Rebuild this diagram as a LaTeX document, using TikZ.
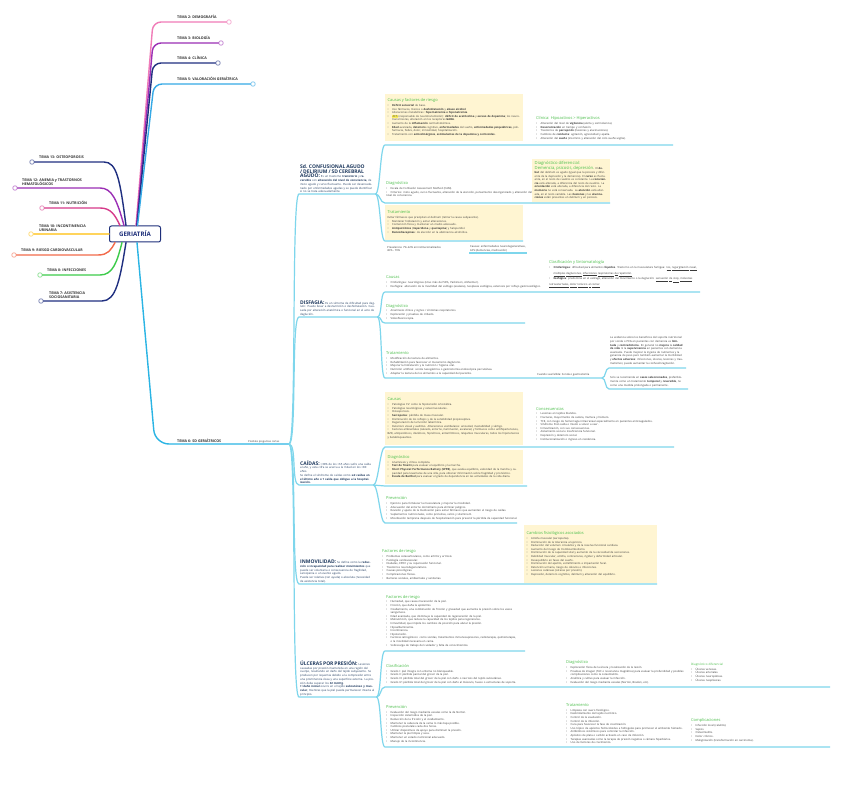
\documentclass[tikz,border=0pt]{standalone}
\usepackage{fontspec}
\setmainfont{Open Sans}
\newfontfamily\symf{DejaVu Sans}
\usetikzlibrary{positioning}

\definecolor{navyt}{HTML}{1F3A5F}
\definecolor{rootc}{HTML}{1E2F7A}
\definecolor{cream}{HTML}{FFF5D2}
\definecolor{hdgreen}{HTML}{4CBF4C}
\definecolor{cyanl}{HTML}{7ED6EC}
\definecolor{cyant}{HTML}{2AB4E4}
\definecolor{bodytxt}{HTML}{3A3A3A}
\definecolor{tpink}{HTML}{F07CB8}
\definecolor{tpurple}{HTML}{9B2FB5}
\definecolor{tnavy}{HTML}{1F2F80}
\definecolor{tblue}{HTML}{35A9E6}
\definecolor{tmag}{HTML}{D63A8A}
\definecolor{tyellow}{HTML}{FFD45C}
\definecolor{torange}{HTML}{F26A4B}
\definecolor{tgreen}{HTML}{3CCB4A}
\definecolor{hl}{HTML}{FFF15A}

\newcommand\bodyf{\fontsize{2.7}{3.6}\selectfont}
\newcommand\ttlf{\fontsize{2.8}{3.7}\selectfont\lineskiplimit=0.5pt\lineskip=1.2pt}
\newcommand\ttl[1]{{\fontsize{5}{6}\selectfont\bfseries\color{navyt}#1}}
\newcommand\hd[1]{{\fontsize{4}{5}\selectfont\color{hdgreen}#1\par}\vskip1.2pt}
\newcommand\bl{\par\noindent\hangindent=4.5pt\hangafter=1\hbox to 4.5pt{\textbullet\hfil}}
% subrayado palabra a palabra
\def\ulx#1{\ulxa#1 \ulend}
\def\ulxa#1 #2\ulend{\underline{#1}\if\relax\detokenize{#2}\relax\else\ \ulxa#2\ulend\fi}

\tikzset{
    raiz/.style = {draw=rootc, line width=1pt, rounded corners=2pt, fill=white, text=rootc, font=\fontsize{6.2}{7}\selectfont\bfseries, minimum width=51pt, minimum height=16pt},
    tema/.style = {font=\fontsize{3.6}{4.3}\selectfont\bfseries, text=black!80, inner sep=0pt, align=left},
    punta/.style = {circle, draw, fill=white, inner sep=0pt, minimum size=4.5pt, line width=0.8pt},
    rama/.style = {line width=1.4pt, line cap=round},
    sub/.style = {cyanl, line width=1.2pt},
    curv/.style = {to path={.. controls +(#1,0) and +(-#1,0) .. (\tikztotarget)}},
    curv/.default = 6,
    txt/.style = {anchor=south west, align=left, inner sep=1pt, font=\bodyf, text=bodytxt},
    caja/.style = {txt, fill=cream, inner sep=2.5pt},
    titulo/.style = {txt, text width=74pt, text=navyt, font=\ttlf}
}

\begin{document}
\begin{tikzpicture}[x=1pt,y=-1pt]
\useasboundingbox (0,0) rectangle (848,791);
\fill[white] (0,0) rectangle (848,791);

% nodo central
\node[raiz] (root) at (135,234) {GERIATRÍA};

% temas de la izquierda
\node[punta,draw=tnavy!55] (t13) at (32,162) {};
\node[punta,draw=tpurple!55] (t12) at (15,188) {};
\node[punta,draw=tmag!55] (t11) at (42,208) {};
\node[punta,draw=tyellow!80] (t10) at (31,234) {};
\node[punta,draw=torange!55] (t9) at (14,255) {};
\node[punta,draw=tgreen!55] (t8) at (40,275) {};
\node[punta,draw=tnavy!55] (t7) at (41,301) {};

\node[tema,anchor=base west] (l13) at (39,159) {TEMA 13: OSTEOPOROSIS};
\node[tema,anchor=south west] (l12) at (22,186) {TEMA 12: ANEMIA y TRASTORNOS\\HEMATOLÓGICOS};
\node[tema,anchor=base west] (l11) at (49,205) {TEMA 11: NUTRICIÓN};
\node[tema,anchor=south west] (l10) at (39,232) {TEMA 10: INCONTINENCIA\\URINARIA};
\node[tema,anchor=base west] (l9) at (21,252) {TEMA 9: RIESGO CARDIOVASCULAR};
\node[tema,anchor=base west] (l8) at (47,272) {TEMA 8: INFECCIONES};
\node[tema,anchor=south west] (l7) at (49,299) {TEMA 7: ASISTENCIA\\SOCIOSANITARIA};

\draw[rama,tnavy] ([xshift=-9pt]root.north) .. controls (120,180) and (117,162) .. (104,162) -- (t13);
\draw[rama,tpurple] ([xshift=-11pt]root.north) .. controls (117,200) and (112,188) .. (100,188) -- (t12);
\draw[rama,tmag] ([xshift=-15pt]root.north) .. controls (115,215) and (111,208) .. (100,208) -- (t11);
\draw[rama,tyellow] (root.west) -- (t10);
\draw[rama,torange] ([xshift=-20pt]root.south) .. controls (111,250) and (108,255) .. (98,255) -- (t9);
\draw[rama,tgreen] ([xshift=-13pt]root.south) .. controls (117,262) and (113,275) .. (100,275) -- (t8);
\draw[rama,tnavy] ([xshift=-9pt]root.south) .. controls (120,280) and (116,301) .. (102,301) -- (t7);

% temas de arriba
\node[punta,draw=tpink!60] (t2) at (229,22) {};
\node[punta,draw=tpurple!55] (t3) at (221,43) {};
\node[punta,draw=tnavy!55] (t4) at (218,63) {};
\node[punta,draw=tblue!60] (t5) at (253,84) {};

\node[tema,anchor=base west] (l2) at (177,19) {TEMA 2: DEMOGRAFÍA};
\node[tema,anchor=base west] (l3) at (177,40) {TEMA 3: BIOLOGÍA};
\node[tema,anchor=base west] (l4) at (177,60) {TEMA 4: CLÍNICA};
\node[tema,anchor=base west] (l5) at (177,81) {TEMA 5: VALORACIÓN GERIÁTRICA};

\draw[rama,tpink,rounded corners=8pt] ([xshift=1pt]root.north) -- (153,22) -- (t2);
\draw[rama,tpurple,rounded corners=8pt] ([xshift=1.5pt]root.north) -- (153,43) -- (t3);
\draw[rama,tnavy,rounded corners=8pt] ([xshift=2pt]root.north) -- (153,63) -- (t4);
\draw[rama,tblue,rounded corners=8pt] ([xshift=2.5pt]root.north) -- (154,84) -- (t5);

% tema 6
\coordinate (b6) at (289,444);
\draw[rama,cyant,rounded corners=14pt] ([xshift=2pt]root.south) -- (155,444) -- (b6);
\node[tema,anchor=base west] (l6) at (177,442) {TEMA 6: SD GERIÁTRICOS};
\node[txt,anchor=base west,font=\fontsize{2.6}{3}\selectfont] (preg) at (247,442) {Posibles preguntas cortas};

%% ---------- Sd. confusional agudo ----------
\node[titulo] (sdc) at (299,194) {\ttl{Sd. CONFUSIONAL AGUDO / DELIRIUM / SD CEREBRAL AGUDO:} Es un trastorno \textbf{transitorio} y \textbf{reversible} con \textbf{alteración del nivel de consciencia}, de inicio agudo y curso fluctuante. Puede ser desencadenado por enfermedades agudas y se puede identificar si no se trata adecuadamente.};

\node[caja,text width=133pt,minimum height=47pt] (cau1) at (385,141) {\hd{Causas y factores de riesgo}
\bl \textbf{Déficit sensorial} de base.
\bl Uso fármacos, tóxicos o \textbf{deshidratación} y \textbf{abuso alcohol}.
\bl Alteraciones metabólicas: \textbf{hipernatremia e hiponatremia}.
\bl {\fboxsep=0.3pt\colorbox{hl}{ACh}} (responsable de neurotransmisión): \textbf{déficit de acetilcolina} y \textbf{exceso de dopamina}; los neurotransmisores, alteración en los receptores \textbf{GABA}.
\bl Aumento de la \textbf{inflamación} central/sistémica.
\bl \textbf{Edad} avanzada, \textbf{deterioro} cognitivo, \textbf{enfermedades} del sueño, \textbf{enfermedades psiquiátricas}, polifarmacia, fiebre, dolor, inmovilidad, hospitalización.
\bl Tratamiento con \textbf{anticolinérgicos}, \textbf{estimulantes de la dopamina y corticoides}.};

\node[txt,text width=136pt] (cli1) at (535,141) {\hd{Clínica: Hipoactivos > Hiperactivos}
\bl Alteración del nivel de \textbf{vigilancia} (alerta y somnolencia).
\bl \textbf{Desorientación} en tiempo y confusión.
\bl Trastornos de \textbf{percepción} (ilusiones y alucinaciones).
\bl Cambios de \textbf{conducta}: agitación, agresividad y apatía.
\bl Alteración del \textbf{sueño} (insomnio y alteración del ciclo sueño-vigilia).};

\node[txt,text width=148pt] (dia1) at (385,198) {\hd{Diagnóstico}
\bl Escala de Confusión Assessment Method (CAM).
\bl Criterios: inicio agudo, curso fluctuante, alteración de la atención, pensamiento desorganizado y alteración del nivel de consciencia.};

\node[caja,text width=73pt] (ddi1) at (532,202) {{\fontsize{4.2}{5}\selectfont\color{hdgreen}Diagnóstico diferencial:\\ Demencia, psicosis, depresión.} El \textbf{debut} del delirium es agudo (igual que la psicosis y diferente de la depresión y la demencia). El \textbf{curso} es fluctuante, en el resto de cuadros es constante. La \textbf{consciencia} está alterada, a diferencia del resto de cuadros. La \textbf{orientación} está alterada, a diferencia del resto. La \textbf{memoria} no está conservada. La \textbf{atención} está alterada, en el resto variable. Las \textbf{ilusiones} y las \textbf{alucinaciones} están presentes en delirium y en psicosis.};

\node[caja,text width=133pt,minimum height=35pt] (tra1) at (385,240) {\hd{Tratamiento}
Evitar fármacos que precipitan el delirium (retirar la causa subyacente).
\bl Mantener hidratación y evitar alteraciones.
\bl Contención física y mantener un medio adecuado.
\bl \textbf{Antipsicóticos} (\textbf{risperidona} y \textbf{quetiapina}) y haloperidol.
\bl \textbf{Benzodiacepinas}: de elección en la abstinencia alcohólica.};

\node[txt] (pre1) at (386,253) {Prevalencia: 7\%-22\% en institucionalizados\\40\% - 70\%};
\node[txt] (cau1b) at (469,253) {Causas: enfermedades neurodegenerativas,\\ACV (demencias, medicación)};

\coordinate (r1s) at (385,145); \coordinate (r1e) at (673,145);
\coordinate (r2s) at (385,203); \coordinate (r2e) at (610,203);
\coordinate (r3s) at (385,241); \coordinate (r3e) at (523,241);
\draw[sub] (b6) to[curv=8] (sdc.south west) -- (sdc.south east);
\draw[sub] (sdc.south east) to[curv=5] (r1s) -- (r1e);
\draw[sub] (sdc.south east) to[curv=5] (r2s) -- (r2e);
\draw[sub] (sdc.south east) to[curv=5] (r3s) -- (r3e);
\draw[sub] (cau1b.south west) -- (cau1b.south east);

%% ---------- Disfagia ----------
\node[titulo,text width=76pt] (dis) at (299,317) {\ttl{DISFAGIA:} Es un síntoma de dificultad para deglutir. Puede llevar a desnutrición o deshidratación. Causada por alteración anatómica o funcional en el acto de deglución.};

\node[txt,text width=158pt] (cau2) at (385,289) {\hd{Causas}
\bl Orofaríngea: neurológicas (ictus más del 50\%, Parkinson, Alzheimer).
\bl Esofágica: alteración de la movilidad del esófago (acalasia), neoplasia esofágica, estenosis por reflujo gastroesofágico.};

\node[txt,text width=150pt] (cla2) at (548,289) {\hd{Clasificación y Sintomatología}
\bl \textbf{Orofaríngea}: dificultad para alimentos \textbf{líquidos}. Trastorno en la musculatura faríngea: \ulx{tos, regurgitación nasal, múltiples degluciones, infecciones respiratorias de repetición.}
\bl \textbf{Esofágica}: predomina en el esófago, alteración del movimiento o la deglución: \ulx{sensación de stop, molestias retroesternales, dolor torácico al comer.}};

\node[txt,text width=110pt] (dia2) at (385,321) {\hd{Diagnóstico}
\bl Anamnesis clínica y signos / síntomas respiratorios.
\bl Exploración y pruebas de cribado.
\bl Videofluoroscopia.};

\node[txt,text width=145pt] (tra2) at (385,376) {\hd{Tratamiento}
\bl Modificación de textura de alimentos.
\bl Rehabilitación para favorecer el mecanismo deglutorio.
\bl Mejorar la hidratación y la nutrición / higiene oral.
\bl Nutrición artificial: sonda nasogástrica o gastrostomía endoscópica percutánea.
\bl Adaptar la textura de los alimentos a la capacidad del paciente.};

\node[txt] (cua2) at (536,377) {Cuando sea fallida: Sonda o gastrostomía};

\node[txt,text width=75pt] (evi2) at (609,366) {La evidencia sobre los beneficios del soporte nutricional por sonda o PEG en pacientes con demencia es \textbf{limitada} y \textbf{contradictoria}. En general no \textbf{mejora} la \textbf{calidad de vida} ni la \textbf{supervivencia} en pacientes con demencia avanzada. Puede mejorar la ingesta de nutrientes y la ganancia de peso pero también aumentar la morbilidad y \textbf{efectos adversos}: infecciones, úlceras, lesiones y traumatismos; puede aumentar la confusión/agitación.};

\node[txt,text width=77pt] (sol2) at (609,388) {Solo se recomienda en \textbf{casos seleccionados}, preferiblemente como un tratamiento \textbf{temporal} y \textbf{reversible}, no como una medida prolongada o permanente.};

\coordinate (r4s) at (385,292); \coordinate (r4e) at (700,292);
\coordinate (r5s) at (385,323); \coordinate (r5e) at (525,323);
\coordinate (r6s) at (385,378); \coordinate (r6e) at (602,378);
\coordinate (r7s) at (609,368); \coordinate (r7e) at (686,368);
\coordinate (r8s) at (609,389); \coordinate (r8e) at (688,389);
\draw[sub] (b6) to[curv=8] (dis.south west) -- (dis.south east);
\draw[sub] (dis.south east) to[curv=5] (r4s) -- (r4e);
\draw[sub] (dis.south east) to[curv=5] (r5s) -- (r5e);
\draw[sub] (dis.south east) to[curv=5] (r6s) -- (r6e);
\draw[sub] (r6e) to[curv=4] (r7s) -- (r7e);
\draw[sub] (r6e) to[curv=4] (r8s) -- (r8e);

%% ---------- Caídas ----------
\node[titulo,text width=72pt] (cai) at (299,485) {\ttl{CAÍDAS:} >30\% de los >65 años sufre una caída al año, y esta cifra se acerca a la mitad en los >80 años.\par Se define el síndrome de caídas como \textbf{\color{navyt}{\symf ≥}2 caídas en el último año o 1 caída que obligue a la hospitalización.}};

\node[caja,text width=133pt,minimum height=53pt] (cau3) at (385,445) {\hd{Causas}
\bl Patologías CV: como la hipotensión ortostática.
\bl Patologías neurológicas y osteomusculares.
\bl Osteoporosis.
\bl \textbf{Sarcopenia}: pérdida de masa muscular.
\bl Disminución de los reflejos y de la sensibilidad propioceptiva.
\bl Degeneración de la función laberíntica.
\bl Deterioro visual y auditivo. Alteraciones vestibulares: ansiedad, inestabilidad y vértigo.
\bl Factores ambientales (calzado, entorno, iluminación, escaleras) y fármacos como antihipertensivos, BZD, antipsicóticos, diuréticos, hipnóticos, antiarrítmicos, relajantes musculares, todos los hipotensores y betabloqueantes.};

\node[txt,text width=128pt] (con3) at (535,442) {\hd{Consecuencias}
\bl Lesiones en tejidos blandos.
\bl Fracturas, mayormente de cadera, muñeca y húmero.
\bl TCE, con riesgo de hemorragia intracraneal especialmente en pacientes anticoagulados.
\bl Síndrome Post-caída o miedo a volver a caer.
\bl Inmovilización, con sus consecuencias.
\bl Aislamiento social e insuficiencia funcional.
\bl Depresión y deterioro social.
\bl Institucionalización o ingreso en residencia.};

\node[caja,text width=133pt,minimum height=34pt] (dia3) at (385,484) {\hd{Diagnóstico}
\bl Anamnesis y clínica completa.
\bl \textbf{Test de Tinetti} para evaluar el equilibrio y la marcha.
\bl \textbf{Short Physical Performance Battery (SPPB)}, que evalúa equilibrio, velocidad de la marcha y capacidad para levantarse de una silla, para obtener información sobre fragilidad y pronóstico.
\bl \textbf{Escala de Barthel} para evaluar el grado de dependencia en las actividades de la vida diaria.};

\node[txt,text width=135pt] (pre3) at (385,521) {\hd{Prevención}
\bl Ejercicio para fortalecer la musculatura y mejorar la movilidad.
\bl Adecuación del entorno domiciliario para eliminar peligros.
\bl Revisión y ajuste de la medicación para evitar fármacos que aumenten el riesgo de caídas.
\bl Suplementos nutricionales, como proteínas, calcio y vitamina D.
\bl Movilización temprana después de hospitalización para prevenir la pérdida de capacidad funcional.};

\coordinate (r9s) at (385,447); \coordinate (r9e) at (674,447);
\coordinate (r10s) at (385,486); \coordinate (r10e) at (527,486);
\coordinate (r11s) at (385,523); \coordinate (r11e) at (517,523);
\draw[sub] (b6) to[curv=8] (cai.south west) -- (cai.south east);
\draw[sub] (cai.south east) to[curv=5] (r9s) -- (r9e);
\draw[sub] (cai.south east) to[curv=5] (r10s) -- (r10e);
\draw[sub] (cai.south east) to[curv=5] (r11s) -- (r11e);

%% ---------- Inmovilidad ----------
\node[titulo,text width=72pt] (inm) at (299,584) {\ttl{INMOVILIDAD:} Se define como la \textbf{reducción o incapacidad para realizar movimientos} que puede ser voluntaria o consecuencia de fragilidad, sarcopenia o un evento agudo.\par Puede ser relativa (con ayuda) o absoluta (necesidad de asistencia total).};

\node[txt,text width=125pt] (fac4) at (381,581) {\hd{Factores de riesgo}
\bl Problemas osteoarticulares, como artritis y artrosis.
\bl Patología cardiovascular.
\bl Diabetes, EPOC y su repercusión funcional.
\bl Trastornos neurodegenerativos.
\bl Causas psicológicas.
\bl Complicaciones físicas.
\bl Barreras sociales, ambientales y sanitarias.};

\node[caja,text width=128pt,minimum height=58pt] (cam4) at (524,583) {\hd{Cambios fisiológicos asociados}
\bl Atrofia muscular (sarcopenia).
\bl Disminución de la tolerancia al ejercicio.
\bl Reducción del volumen circulante y de la reserva funcional cardíaca.
\bl Aumento del riesgo de tromboembolismo.
\bl Disminución de la capacidad vital y aumento de la viscosidad de secreciones.
\bl Debilidad muscular, atrofia, contracturas, rigidez y deformidad articular.
\bl Desequilibrio en fases del sueño.
\bl Disminución del apetito, estreñimiento e impactación fecal.
\bl Retención urinaria, riesgo de cálculos e infecciones.
\bl Lesiones cutáneas (úlceras por presión).
\bl Depresión, deterioro cognitivo, delirium y alteración del equilibrio.};

\coordinate (r12e) at (657,584);
\draw[sub] (b6) to[curv=8] (inm.south west) -- (r12e);

%% ---------- Úlceras por presión ----------
\node[titulo,text width=75pt] (ulc) at (299,697) {\ttl{ÚLCERAS POR PRESIÓN:} Lesiones causadas por presión mantenida en una región del cuerpo, resultando en daño del tejido subyacente. Se producen por isquemia debido a la compresión entre una prominencia ósea y una superficie externa. La presión debe superar los \textbf{32 mmHg}.\par El \textbf{daño inicial} ocurre en el tejido \textbf{subcutáneo y muscular}, mientras que la piel puede permanecer intacta al principio.};

\node[txt,text width=132pt] (fac5) at (385,648) {\hd{Factores de riesgo}
\bl Humedad, que causa maceración de la piel.
\bl Fricción, que daña la epidermis.
\bl Cizallamiento, una combinación de fricción y gravedad que aumenta la presión sobre los vasos sanguíneos.
\bl Edad avanzada, que disminuye la capacidad de regeneración de la piel.
\bl Malnutrición, que reduce la capacidad de los tejidos para regenerarse.
\bl Inmovilidad, que impide los cambios de posición para aliviar la presión.
\bl Hipoalbuminemia.
\bl Incontinencia.
\bl Hipotensión.
\bl Factores iatrogénicos: como sondas, tratamientos inmunosupresores, radioterapia, quimioterapia, o la movilidad necesaria en cama.
\bl Sobrecarga de trabajo del cuidador y falta de conocimientos.};

\node[txt,text width=140pt] (cla5) at (385,685) {\hd{Clasificación}
\bl Grado I: piel íntegra con eritema no blanqueable.
\bl Grado II: pérdida parcial del grosor de la piel.
\bl Grado III: pérdida total del grosor de la piel con daño o necrosis del tejido subcutáneo.
\bl Grado IV: pérdida total del grosor de la piel con daño al músculo, hueso o estructuras de soporte.};

\node[txt,text width=122pt] (dia5) at (565,685) {\hd{Diagnóstico}
\bl Exploración física de la úlcera y localización de la lesión.
\bl Pruebas de imagen (TAC o resonancia magnética) para evaluar la profundidad y posibles complicaciones como la osteomielitis.
\bl Analítica y cultivo para evaluar la infección.
\bl Evaluación del riesgo mediante escalas (Norton, Braden, etc).};

\node[txt,text width=60pt] (ddi5) at (690,683) {{\fontsize{3}{4}\selectfont\color{hdgreen}Diagnóstico diferencial\par}\vskip1pt
\bl Úlceras venosas.
\bl Úlceras arteriales.
\bl Úlceras neuropáticas.
\bl Úlceras neoplásicas.};

\node[txt,text width=130pt] (pre5) at (385,744) {\hd{Prevención}
\bl Evaluación del riesgo mediante escalas como la de Norton.
\bl Inspección sistemática de la piel.
\bl Reducción de la fricción y el cizallamiento.
\bl Mantener la cabecera de la cama lo más baja posible.
\bl Cambios posturales cada dos horas.
\bl Utilizar dispositivos de apoyo para disminuir la presión.
\bl Mantener la piel limpia y seca.
\bl Mantener un estado nutricional adecuado.
\bl Manejo de la incontinencia.};

\node[txt,text width=120pt] (tra5) at (565,745) {\hd{Tratamiento}
\bl Limpieza con suero fisiológico.
\bl Desbridamiento del tejido necrótico.
\bl Control de la exudación.
\bl Control de la infección.
\bl Cura para favorecer la fase de cicatrización.
\bl Uso tópico de apósitos hidrocoloides e hidrogeles para promover el ambiente húmedo.
\bl Antibióticos sistémicos para controlar la infección.
\bl Apósitos de plata o carbón activado en caso de infección.
\bl Terapias avanzadas como la terapia de presión negativa o cámara hiperbárica.
\bl Uso de factores de crecimiento.};

\node[txt,text width=75pt] (com5) at (690,743) {\hd{Complicaciones}
\bl Infección local (celulitis).
\bl Sepsis.
\bl Osteomielitis.
\bl Dolor crónico.
\bl Malignización (transformación en carcinoma).};

\coordinate (r13s) at (385,651); \coordinate (r13e) at (525,651);
\coordinate (r14s) at (385,687); \coordinate (r14e) at (830,687);
\coordinate (r15s) at (385,747); \coordinate (r15e) at (830,747);
\draw[sub] (b6) to[curv=8] (ulc.south west) -- (ulc.south east);
\draw[sub] (ulc.south east) to[curv=5] (r13s) -- (r13e);
\draw[sub] (ulc.south east) to[curv=5] (r14s) -- (r14e);
\draw[sub] (ulc.south east) to[curv=5] (r15s) -- (r15e);

\end{tikzpicture}
\end{document}
